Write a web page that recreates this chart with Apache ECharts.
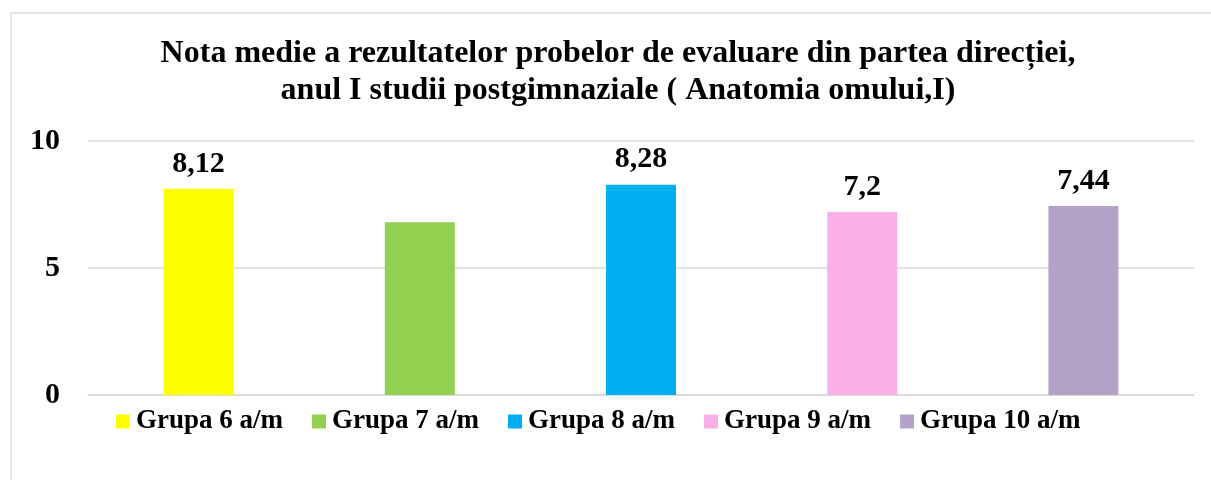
<!DOCTYPE html>
<html>
<head>
<meta charset="utf-8">
<script src="https://cdn.jsdelivr.net/npm/echarts@6/dist/echarts.min.js"></script>
<style>
html,body{margin:0;padding:0;background:#fff;}
#c{width:1211px;height:480px;}
</style>
</head>
<body>
<div id="c"></div>
<script>
const titleLines = ["Nota medie a rezultatelor probelor de evaluare din partea direcției,", "anul I studii postgimnaziale ( Anatomia omului,I)"];
const categories = ["Grupa 6 a/m", "Grupa 7 a/m", "Grupa 8 a/m", "Grupa 9 a/m", "Grupa 10 a/m"];
const values = [8.12, 6.8, 8.28, 7.2, 7.44];
const showLabel = [true, false, true, true, true];
const colors = ["#FFFF00", "#92D050", "#00B0F0", "#F9AFE8", "#B3A2C7"];
const yTicks = [0, 5, 10];

const FONT = "'Liberation Serif', 'Times New Roman', serif";

const series = categories.map((name, i) => ({
  name: name,
  type: 'bar',
  stack: 'all',
  barWidth: 70,
  itemStyle: { color: colors[i] },
  data: categories.map((c, j) => (j === i ? values[i] : '-')),
  label: {
    show: showLabel[i],
    position: 'top',
    distance: 10,
    fontFamily: FONT,
    fontWeight: 'bold',
    fontSize: 30,
    color: '#000',
    formatter: p => String(p.value).replace('.', ',')
  }
}));

const chart = echarts.init(document.getElementById('c'), null, { renderer: 'canvas' });
chart.setOption({
  animation: false,
  backgroundColor: '#fff',
  graphic: [{
    type: 'rect',
    shape: { x: 11, y: 13, width: 1240, height: 520 },
    style: { fill: 'none', stroke: '#d9d9d9', lineWidth: 1.5 },
    silent: true
  }],
  title: {
    text: titleLines.join('\n'),
    left: 618,
    textAlign: 'center',
    top: 35,
    padding: 0,
    textStyle: {
      fontFamily: FONT,
      fontWeight: 'bold',
      fontSize: 32,
      lineHeight: 37,
      color: '#000',
      align: 'center'
    }
  },
  legend: {
    left: 116,
    top: 408,
    padding: 0,
    itemWidth: 14,
    itemHeight: 14,
    itemGap: 29,
    icon: 'rect',
    textStyle: {
      fontFamily: FONT,
      fontWeight: 'bold',
      fontSize: 27,
      color: '#000',
      padding: [0, 0, 0, 1]
    },
    data: categories
  },
  grid: { left: 88, right: 17, top: 141, bottom: 85, containLabel: false },
  xAxis: {
    type: 'category',
    data: categories,
    axisTick: { show: false },
    axisLabel: { show: false },
    axisLine: { show: true, lineStyle: { color: '#d9d9d9', width: 1.5 } }
  },
  yAxis: {
    type: 'value',
    min: yTicks[0],
    max: yTicks[yTicks.length - 1],
    interval: 5,
    axisLine: { show: false },
    axisTick: { show: false },
    splitLine: { lineStyle: { color: '#d9d9d9', width: 1.5 } },
    axisLabel: {
      margin: 28,
      fontFamily: FONT,
      fontWeight: 'bold',
      fontSize: 30,
      color: '#000'
    }
  },
  series: series
});
</script>
</body>
</html>
